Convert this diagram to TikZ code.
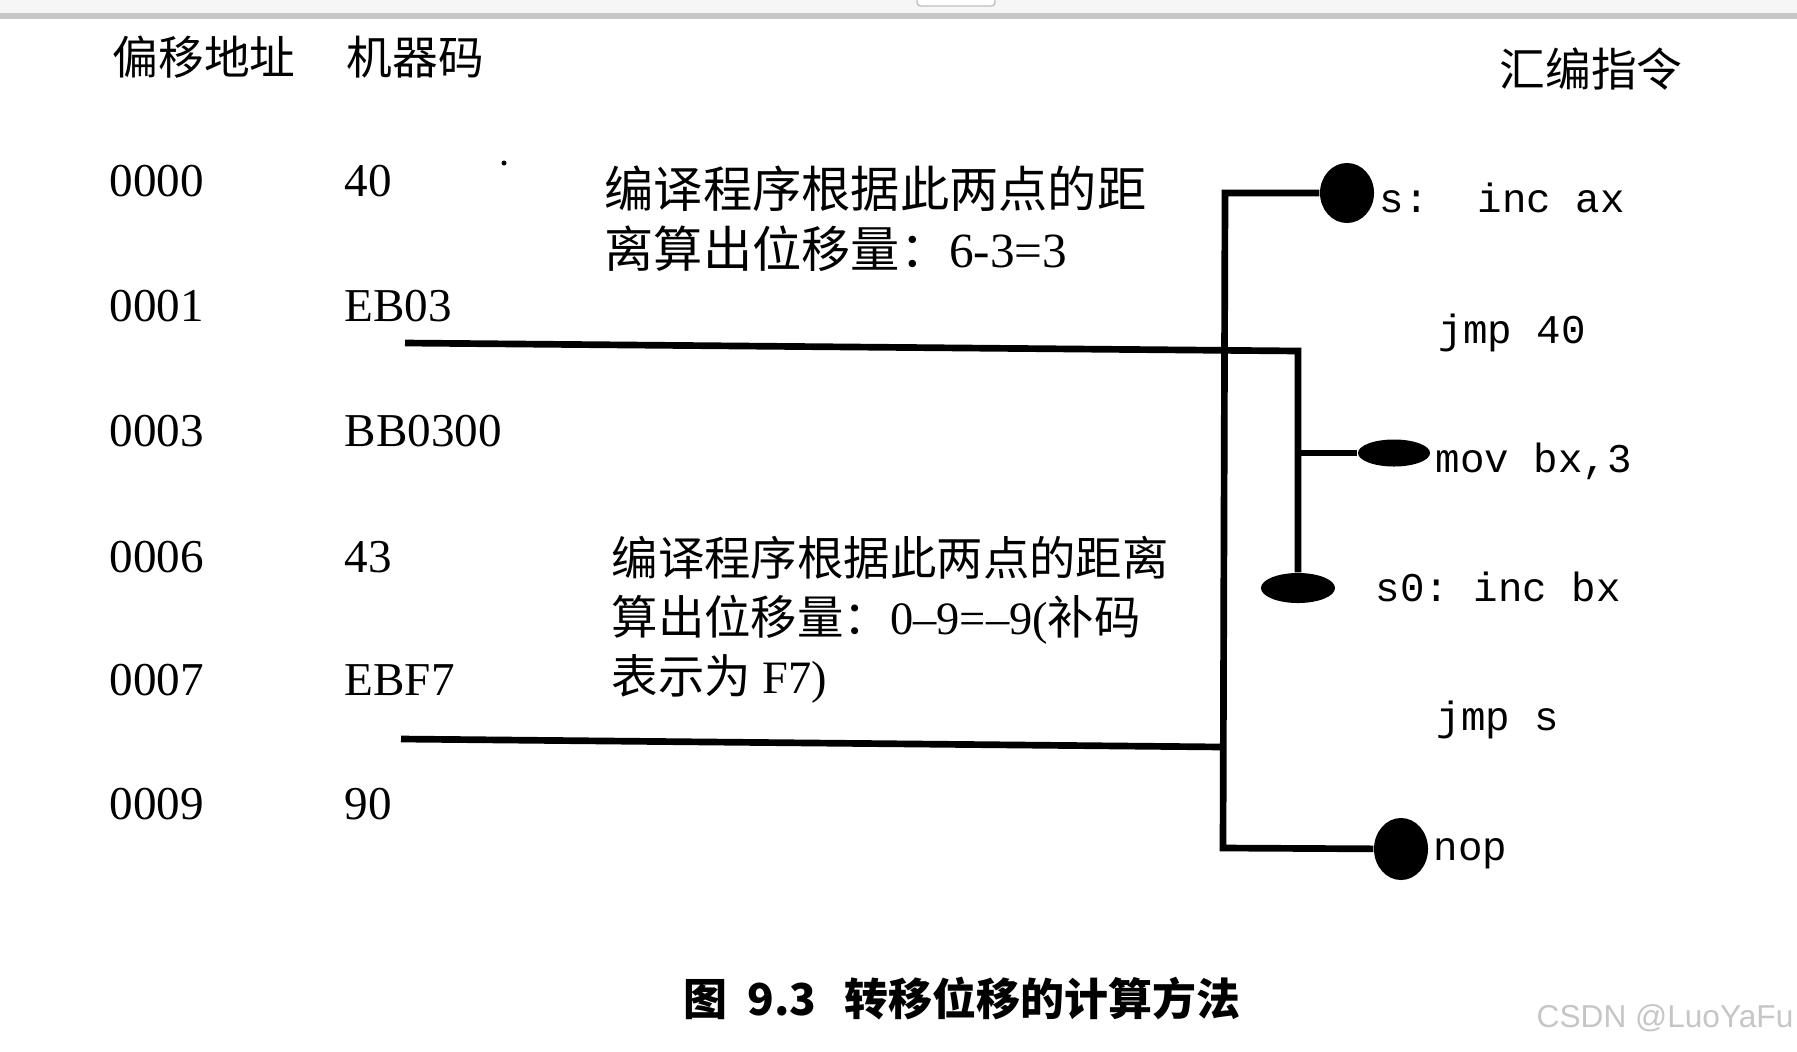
\documentclass[tikz,border=0pt]{standalone}
\usepackage{fontspec}
\setmainfont{Liberation Serif}
\setsansfont{Liberation Sans}
\setmonofont{Liberation Mono}
\newfontfamily\cjk{Noto Sans CJK SC}
\usetikzlibrary{positioning,shapes.geometric}

\tikzset{
  link/.style={line width=1.9pt},
  blob/.style={ellipse, fill=black, inner sep=0pt},
  numtxt/.style={anchor=west, inner sep=0pt, font=\fontsize{13.4}{16}\selectfont},
  asmtxt/.style={anchor=west, inner sep=0pt, text height=0.62em, text depth=0pt, font=\ttfamily\fontsize{11.6}{14}\selectfont},
  hdrtxt/.style={anchor=west, inner sep=0pt, font=\cjk\fontsize{13}{16}\selectfont},
  notetxt/.style={anchor=north west, inner sep=0pt, align=left},
}

\begin{document}
\begin{tikzpicture}[x=0.01cm,y=-0.01cm]
\useasboundingbox (0,0) rectangle (1797,1051);
\fill[white] (0,0) rectangle (1797,1051);
% window strip at the top
\fill[gray!7] (0,0) rectangle (1797,15);
\draw[gray!45, line width=1.5pt] (0,16) -- (1797,16);
\draw[gray!50, fill=white, rounded corners=1pt] (917,0) -- (917,6) -- (995,6) -- (995,0);

% column headers
\node[hdrtxt] (h1) at (112,57) {偏移地址};
\node[hdrtxt] (h2) at (346,57) {机器码};
\node[hdrtxt] (h3) at (1499,69) {汇编指令};

% offsets and machine code
\foreach \i/\addr/\code/\y in {1/0000/40/181,2/0001/EB03/306,3/0003/BB0300/431,4/0006/43/557,5/0007/EBF7/680,6/0009/90/804} {
    \node[numtxt] (a\i) at (109,\y) {\addr};
    \node[numtxt] (m\i) at (344,\y) {\code};
}
\fill (504,163) circle (0.25mm);

% explanations
\node[notetxt, font=\fontsize{14}{17.2}\selectfont] (n1) at (604,165)
    {{\cjk 编译程序根据此两点的距}\\{\cjk 离算出位移量：}6-3=3};
\node[notetxt, font=\fontsize{13.2}{16.8}\selectfont] (n2) at (611,535)
    {{\cjk 编译程序根据此两点的距离}\\{\cjk 算出位移量：}0--9=--9({\cjk 补码}\\{\cjk 表示为} F7)};

% assembly source
\node[asmtxt] (s1) at (1379,202) {s:\ \ inc ax};
\node[asmtxt] (s2) at (1438,333) {jmp 40};
\node[asmtxt] (s3) at (1435,462) {mov bx,3};
\node[asmtxt] (s4) at (1375,591) {s0: inc bx};
\node[asmtxt] (s5) at (1436,720) {jmp s};
\node[asmtxt] (s6) at (1433,850) {nop};

% the marked points
\node[blob, minimum width=5.4mm, minimum height=6mm] (bs) at (1347,193) {};
\node[blob, minimum width=7.2mm, minimum height=2.7mm] (bmov) at (1394,453) {};
\node[blob, minimum width=7.4mm, minimum height=3mm] (b0) at (1298,588) {};
\node[blob, minimum width=5.4mm, minimum height=6.2mm] (bnop) at (1401,849) {};

% connectors
\coordinate (jA) at (405,343);
\coordinate (cA) at (1298,351);
\coordinate (jB) at (401,739);
\coordinate (cM) at (1223,747);
\coordinate (cT) at (1225,193);
\coordinate (cB) at (1223,848);
\draw[link] (jA) -- (cA) -- (b0);
\draw[link] (cA |- bmov) -- (bmov);
\draw[link] (bs) -- (cT) -- (cB) -- (bnop);
\draw[link] (jB) -- (cM);

% caption
\node[anchor=west, inner sep=0pt, font=\cjk\bfseries\fontsize{12.5}{15}\selectfont] (cap) at (683,999)
    {图\hspace{0.45em}9.3\hspace{0.65em}转移位移的计算方法};
\node[anchor=west, inner sep=0pt, text=gray!45, font=\sffamily\fontsize{9}{11}\selectfont] (wm) at (1536,1018) {CSDN @LuoYaFu};
\end{tikzpicture}
\end{document}
